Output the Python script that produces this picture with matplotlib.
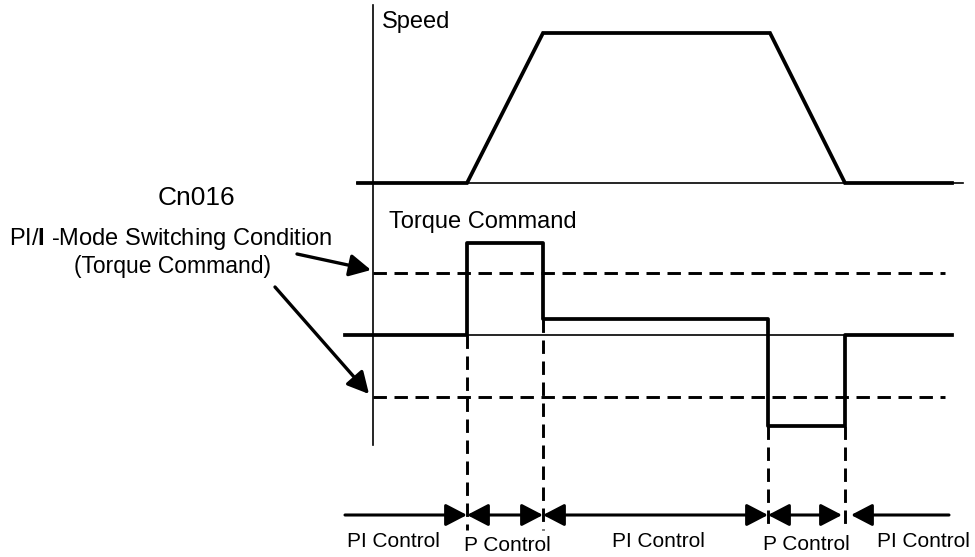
import matplotlib.pyplot as plt

plt.rcParams['font.family'] = ['Liberation Sans', 'DejaVu Sans']
plt.rcParams['mathtext.fontset'] = 'custom'
plt.rcParams['mathtext.rm'] = 'Liberation Sans'
plt.rcParams['mathtext.bf'] = 'Liberation Sans:bold'

# switching instants (time axis, arbitrary units) and profiles
t_edges = [345, 467, 543, 768, 845, 952]
speed_t = [358, 467, 543, 770, 845, 952]
speed_v = [0, 0, 1, 1, 0, 0]
torque_v = [0, 1.48, 0.26, -1.46, 0, 0]   # level held from t_edges[i] to t_edges[i+1]
threshold = 1.0
mode_edges = [345, 467, 543, 768, 845, 949]
mode_names = ['PI Control', 'P Control', 'PI Control', 'P Control', 'PI Control']

W, H = 975, 557
fig = plt.figure(figsize=(W / 100, H / 100), dpi=100)


def overlay(ylim):
    a = fig.add_axes([0, 0, 1, 1])
    a.set_xlim(0, W)
    a.set_ylim(*ylim)
    a.axis('off')
    a.patch.set_alpha(0)
    return a


# pixel-like frame for text / arrows, plus one overlay per signal
ax = overlay((H, 0))
spd0, spd_px = 183, 150
trq0, trq_px = 335, 62
ax_spd = overlay(((spd0 - H) / spd_px, spd0 / spd_px))
ax_trq = overlay(((trq0 - H) / trq_px, trq0 / trq_px))

thick, thin = 2.7, 1.2

# vertical axis
ax.plot([373, 373], [5, 445], color='k', lw=thin)

# speed
ax_spd.plot([357, 963], [0, 0], color='k', lw=thin)
ax_spd.plot(speed_t, speed_v, color='k', lw=thick, solid_joinstyle='miter')

# torque
ax_trq.plot([345, 950], [0, 0], color='k', lw=thin)
ax_trq.plot(t_edges, torque_v, drawstyle='steps-post', color='k', lw=thick)
dash = (0, (4.6, 2.6))
ax_trq.hlines([threshold, -threshold], 373, 945, colors='k', lw=2.1,
              linestyles=[dash])

# dashed switching lines down to the mode bar
bottom = (trq0 - 530) / trq_px
for i, t in enumerate(t_edges[1:5], start=1):
    top = min(torque_v[i - 1], torque_v[i])
    ax_trq.plot([t, t], [top, bottom], color='k', lw=2.1, linestyle=dash)

# mode bar arrows
y_bar = 515
head = 'head_length=0.5,head_width=0.26'
styles = ['-|>', '<|-|>', '<|-|>', '<|-|>', '<|-']
for k, st in enumerate(styles):
    x0, x1 = mode_edges[k], mode_edges[k + 1]
    if k == 3:
        x1 -= 3
    if k == 4:
        x0 += 6
    ax.annotate('', xy=(x1, y_bar), xytext=(x0, y_bar),
                arrowprops=dict(arrowstyle=st + ',' + head, color='k', lw=2.2,
                                mutation_scale=26, shrinkA=0, shrinkB=0))

label_x = [393, 507, 658, 806, 923]
label_y = [547, 551, 547, 550, 547]
for name, lx, ly in zip(mode_names, label_x, label_y):
    ax.text(lx, ly, name, fontsize=15, ha='center', va='baseline')

# titles
ax.text(382, 28, 'Speed', fontsize=17, va='baseline')
ax.text(389, 228, 'Torque Command', fontsize=17, va='baseline')
ax.text(196, 205, 'Cn016', fontsize=19, ha='center', va='baseline')
ax.text(9, 245, r'PI/$\mathbf{I}$ -Mode Switching Condition', fontsize=17,
        va='baseline')
ax.text(172, 273, '(Torque Command)', fontsize=16.5, ha='center', va='baseline')

# pointers to the thresholds
for (x0, y0), (x1, y1) in [((297, 254), (371, 270)), ((275, 287), (369, 394))]:
    ax.annotate('', xy=(x1, y1), xytext=(x0, y0),
                arrowprops=dict(arrowstyle='-|>,' + head, color='k', lw=2.4,
                                mutation_scale=26, shrinkA=0, shrinkB=0))

fig.savefig('out.png', dpi=100)
